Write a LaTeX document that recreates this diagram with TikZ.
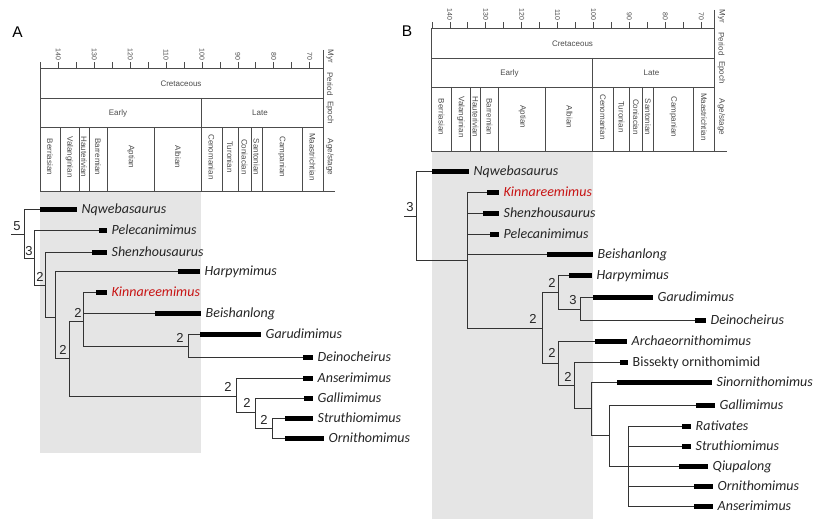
\documentclass[tikz,border=0pt]{standalone}
\usepackage{fontspec}
\setmainfont{Carlito}
\newfontfamily\hv{Liberation Sans}
\definecolor{kred}{RGB}{200,20,20}
\tikzset{
 hdr/.style={draw=black!70, line width=0.8pt},
 tree/.style={draw=black!80, line width=1pt},
 bar/.style={fill=black, draw=none, inner sep=0pt, outer sep=0pt, minimum height=5pt},
 taxlab/.style={font=\fontsize{14}{16}\selectfont\itshape, text=black!85, inner sep=0pt, anchor=base west},
 numlab/.style={font=\hv\fontsize{13}{15}\selectfont, text=black!85, inner sep=0pt},
 hlab/.style={font=\hv\fontsize{8}{9}\selectfont, text=black!70, inner sep=0pt},
 ticklab/.style={font=\hv\fontsize{7}{8}\selectfont, text=black!70, inner sep=0pt},
 band/.style={fill=black!10, draw=none},
 panellab/.style={font=\hv\fontsize{15.5}{17}\selectfont, inner sep=0pt},
}
\newcommand\taxon[6]{%
 \node[bar, minimum width={#3-#2}] (#1) at ({(#2+#3)/2},#4) {};
 \node[taxlab,#6] (#1l) at ([xshift=4.5pt,yshift=-4.7pt]#1.east) {#5};}
\newcommand\geoheader{%
 \draw[hdr] (40,68) rectangle (323,191);
 \draw[hdr] (40,98) -- (323,98) (40,127) -- (323,127) (201,98) -- (201,191);
 \foreach \x in {60,79,89,107,154,222,238,251,262,302} \draw[hdr] (\x,127) -- (\x,191);
 \draw[hdr] (323,50) -- (323,191) -- (335,191);
 \foreach \m in {145,140,...,70} \draw[hdr] ({202+(100-\m)*3.59},68) -- ++(0,-6);
 \foreach \m in {140,130,...,70} \node[ticklab, rotate=-90, anchor=east] (t\m) at ({202+(100-\m)*3.59},60.5) {\m};
 \node[hlab] (cret) at (181,84) {Cretaceous};
 \node[hlab] (early) at (118,113) {Early};
 \node[hlab] (late) at (260,113) {Late};
 \foreach \x/\t in {50/Berriasian,69.5/Valanginian,84/Hauterivian,98/Barremian,131/Aptian,178/Albian,211.5/Cenomanian,230/Turonian,244.5/Coniacian,256.5/Santonian,282/Campanian,312.5/Maastrichtian}
   \node[hlab, rotate=-90] (s\x) at (\x,157) {\t};
 \node[hlab, rotate=-90] (myr) at (330,56.5) {Myr};
 \node[hlab, rotate=-90] (per) at (330,84) {Period};
 \node[hlab, rotate=-90] (epo) at (330,112.5) {Epoch};
 \node[hlab, rotate=-90] (age) at (330,157) {Age/stage};
}
\begin{document}
\begin{tikzpicture}[x=1pt,y=-1pt]
\useasboundingbox (0,0) rectangle (828,519);
\fill[white] (0,0) rectangle (828,519);
% shaded bands
\fill[band] (40,191) rectangle (201,453);
\fill[band] (432,151) rectangle (593,519);
% panel letters
\node[panellab] (pA) at (17.5,32.5) {A};
\node[panellab] (pB) at (407,31) {B};
% headers
\begin{scope}[name prefix=A-]
 \geoheader
\end{scope}
\begin{scope}[shift={(391.5,-40)}, name prefix=B-]
 \geoheader
\end{scope}

% ---------------- Tree A ----------------
\taxon{nqA}{40}{77}{209}{Nqwebasaurus}{}
\taxon{peA}{99}{107}{230}{Pelecanimimus}{}
\taxon{shA}{92}{107}{252}{Shenzhousaurus}{}
\taxon{haA}{178}{200}{271}{Harpymimus}{}
\taxon{kiA}{96}{107}{292}{Kinnareemimus}{text=kred}
\taxon{beA}{155}{201}{313}{Beishanlong}{}
\taxon{gaA}{200}{261}{334}{Garudimimus}{}
\taxon{deA}{303}{313}{357}{Deinocheirus}{}
\taxon{anA}{303}{313}{378}{Anserimimus}{}
\taxon{glA}{304}{313}{398}{Gallimimus}{}
\taxon{stA}{285}{313}{418}{Struthiomimus}{}
\taxon{orA}{285}{324}{438}{Ornithomimus}{}

\coordinate (rA) at (11,234);
\coordinate (A5) at (24,234);
\coordinate (A3) at (34,258);
\coordinate (A2a) at (45,285);
\coordinate (A2b) at (55,317);
\coordinate (A2c) at (69,358);
\coordinate (A2d) at (83,321);
\coordinate (A2e) at (188,346);
\coordinate (A2g) at (236,396);
\coordinate (A2h) at (255,412);
\coordinate (A2i) at (272,428);

\draw[tree] (rA) -- (A5);
\draw[tree] (nqA.west) -| (A5) (A3) -| (A5);
\draw[tree] (peA.west) -| (A3) (A2a) -| (A3);
\draw[tree] (shA.west) -| (A2a) (A2b) -| (A2a);
\draw[tree] (haA.west) -| (A2b) (A2c) -| (A2b);
\draw[tree] (A2d) -| (A2c) (A2g) -| (A2c);
\draw[tree] (kiA.west) -| (A2d) (beA.west) -| (A2d) (A2e) -| (A2d);
\draw[tree] (gaA.west) -| (A2e) (deA.west) -| (A2e);
\draw[tree] (anA.west) -| (A2g) (A2h) -| (A2g);
\draw[tree] (glA.west) -| (A2h) (A2i) -| (A2h);
\draw[tree] (stA.west) -| (A2i) (orA.west) -| (A2i);

\node[numlab] (nA5) at (17,226) {5};
\node[numlab] (nA3) at (29,251) {3};
\node[numlab] (nA2a) at (40,277) {2};
\node[numlab] (nA2d) at (78,313) {2};
\node[numlab] (nA2c) at (63,350) {2};
\node[numlab] (nA2e) at (180,338) {2};
\node[numlab] (nA2g) at (228,387) {2};
\node[numlab] (nA2h) at (247,403) {2};
\node[numlab] (nA2i) at (264,420) {2};

% ---------------- Tree B ----------------
\taxon{nqB}{432}{469}{171}{Nqwebasaurus}{}
\taxon{kiB}{487}{499}{192}{Kinnareemimus}{text=kred}
\taxon{shB}{483}{499}{213}{Shenzhousaurus}{}
\taxon{peB}{490}{499}{234}{Pelecanimimus}{}
\taxon{beB}{547}{593}{254}{Beishanlong}{}
\taxon{haB}{569}{592}{275}{Harpymimus}{}
\taxon{gaB}{593}{653}{297}{Garudimimus}{}
\taxon{deB}{695}{706}{320}{Deinocheirus}{}
\taxon{arB}{595}{627}{341}{Archaeornithomimus}{}
\taxon{biB}{620}{628}{362}{Bissekty ornithomimid}{font=\fontsize{14}{16}\selectfont\upshape}
\taxon{siB}{617}{712}{382}{Sinornithomimus}{}
\taxon{glB}{696}{715}{405}{Gallimimus}{}
\taxon{raB}{682}{691}{426}{Rativates}{}
\taxon{stB}{682}{691}{446}{Struthiomimus}{}
\taxon{qiB}{679}{708}{466}{Qiupalong}{}
\taxon{orB}{694}{713}{486}{Ornithomimus}{}
\taxon{anB}{694}{713}{506}{Anserimimus}{}

\coordinate (rB) at (404,216);
\coordinate (B3) at (416,216);
\coordinate (Bp) at (467,260);
\coordinate (B2a) at (542,328);
\coordinate (B2b) at (558,292);
\coordinate (B3b) at (580,309);
\coordinate (B2c) at (558,363);
\coordinate (B2d) at (574,385);
\coordinate (Bsn) at (591,408);
\coordinate (Bga) at (609,435);
\coordinate (Bpol) at (628,466);

\draw[tree] (rB) -- (B3);
\draw[tree] (nqB.west) -| (B3) (Bp) -| (B3);
\draw[tree] (kiB.west) -| (Bp) (shB.west) -| (Bp) (peB.west) -| (Bp) (beB.west) -| (Bp) (B2a) -| (Bp);
\draw[tree] (B2b) -| (B2a) (B2c) -| (B2a);
\draw[tree] (haB.west) -| (B2b) (B3b) -| (B2b);
\draw[tree] (gaB.west) -| (B3b) (deB.west) -| (B3b);
\draw[tree] (arB.west) -| (B2c) (B2d) -| (B2c);
\draw[tree] (biB.west) -| (B2d) (Bsn) -| (B2d);
\draw[tree] (siB.west) -| (Bsn) (Bga) -| (Bsn);
\draw[tree] (glB.west) -| (Bga) (Bpol) -| (Bga);
\draw[tree] (raB.west) -| (Bpol) (stB.west) -| (Bpol) (qiB.west) -| (Bpol) (orB.west) -| (Bpol) (anB.west) -| (Bpol);

\node[numlab] (nB3) at (410,207) {3};
\node[numlab] (nB2a) at (533,319) {2};
\node[numlab] (nB2b) at (552,283) {2};
\node[numlab] (nB3b) at (573,300) {3};
\node[numlab] (nB2c) at (552,353) {2};
\node[numlab] (nB2d) at (568,377) {2};
\end{tikzpicture}
\end{document}
